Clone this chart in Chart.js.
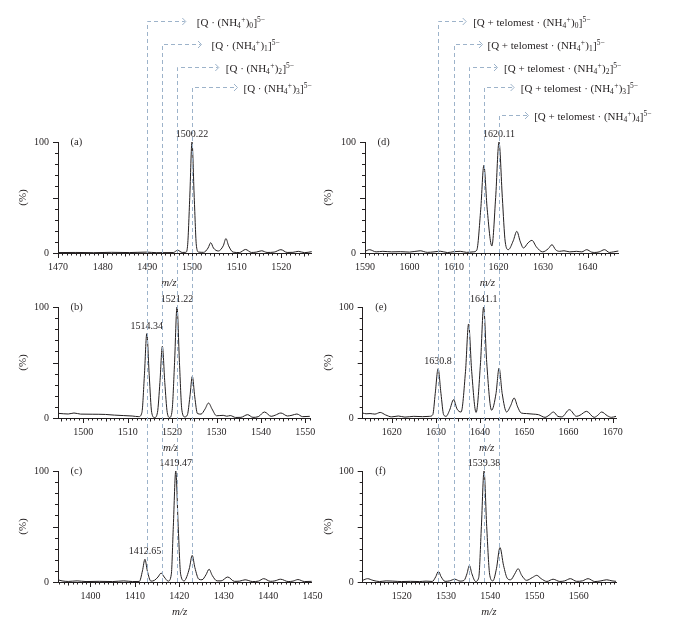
<!DOCTYPE html>
<html>
<head>
<meta charset="utf-8">
<script src="https://cdn.jsdelivr.net/npm/chart.js@4.4.1/dist/chart.umd.min.js"></script>
<style>
  html, body { margin: 0; padding: 0; background: #fff; }
  #fig { position: relative; width: 681px; height: 622px; overflow: hidden; }
  #fig canvas { position: absolute; }
  #ov { left: 0; top: 0; pointer-events: none; }
</style>
</head>
<body>
<div id="fig">
  <canvas id="pa"></canvas>
  <canvas id="pb"></canvas>
  <canvas id="pc"></canvas>
  <canvas id="pd"></canvas>
  <canvas id="pe"></canvas>
  <canvas id="pf"></canvas>
  <canvas id="ov" width="681" height="622"></canvas>
</div>
<script>
/* ── 資料：m/z 與相對強度 (%) ── */
const mzA  = [1470, 1474, 1478, 1482, 1486, 1489.8, 1492, 1495.8, 1496.8, 1497.8, 1498.6, 1499.0, 1499.5, 1500.0, 1500.5, 1501.0, 1501.5, 1502.6, 1503.6, 1504.2, 1504.8, 1505.9, 1507.0, 1507.6, 1508.2, 1509.2, 1510.6, 1512.0, 1513.3, 1514.4, 1515.6, 1516.8, 1518.4, 1519.9, 1521.3, 1522.6, 1523.8, 1525.2, 1526.8];
const intA = [0.4, 0.5, 0.3, 0.6, 0.4, 0.8, 0.3, 0.4, 2.5, 0.5, 0.6, 6, 50, 100, 50, 6, 0.8, 0.6, 4.5, 9.3, 4.5, 1.8, 6.5, 13, 6.5, 0.8, 0.4, 3.2, 0.5, 0.8, 2, 0.5, 0.8, 3, 0.5, 0.6, 1.5, 0.3, 1.2];

const mzB  = [1494.3, 1495.6, 1496.6, 1497.9, 1499.4, 1502, 1505, 1507, 1509, 1511, 1512.5, 1513.2, 1513.75, 1514.3, 1514.85, 1515.4, 1516.05, 1516.7, 1517.25, 1517.8, 1518.35, 1518.9, 1519.45, 1520.0, 1520.55, 1521.1, 1521.65, 1522.2, 1522.85, 1523.45, 1524.0, 1524.55, 1525.1, 1525.7, 1526.5, 1527.4, 1528.2, 1529.0, 1530.0, 1531.5, 1532.3, 1533.1, 1534.3, 1535.5, 1537.0, 1538.2, 1539.4, 1540.8, 1542.3, 1543.2, 1544.5, 1546.0, 1547.0, 1548.1, 1549.4, 1551];
const intB = [4.2, 3.8, 3.6, 4.5, 3.5, 3.4, 3.2, 2.6, 2.2, 1.8, 1.2, 5, 38, 76, 38, 5, 0.4, 5, 32, 64.6, 32, 5, 0.5, 7, 50, 100, 50, 7, 1, 3, 19, 37.5, 19, 4, 3.5, 8, 13.5, 8, 2, 2.4, 1.6, 2.2, 0.5, 0.6, 3, 0.6, 1.2, 5.4, 1.5, 2.5, 4.5, 1.8, 2.5, 3.6, 1.2, 1.5];

const mzC  = [1392.7, 1393.6, 1395, 1397, 1399, 1402, 1405, 1407.5, 1409.5, 1411.0, 1411.7, 1412.26, 1412.8, 1413.6, 1414.4, 1415.2, 1415.9, 1416.6, 1417.5, 1418.2, 1418.65, 1419.2, 1419.75, 1420.3, 1421.1, 1421.7, 1422.3, 1422.9, 1423.5, 1424.4, 1425.1, 1426.0, 1426.7, 1427.4, 1428.5, 1429.4, 1430.9, 1432.4, 1433.6, 1434.8, 1436.5, 1437.8, 1439, 1440.5, 1441.5, 1442.8, 1444.5, 1445.6, 1446.7, 1448.2, 1449.8];
const intC = [2, 1, 0.5, 1, 0.4, 0.6, 0.4, 1, 0.4, 0.5, 10, 20.5, 10, 0.8, 1.5, 4.5, 8, 4.5, 0.8, 7, 50, 100, 50, 7, 1, 5, 13, 24, 13, 2.5, 2, 6.5, 11.5, 6, 1, 1, 4.5, 0.6, 0.8, 2, 0.4, 0.8, 3, 0.6, 1, 2.5, 0.4, 0.8, 2.2, 0.4, 0.6];

const mzD  = [1590, 1591, 1592.5, 1594, 1596, 1598, 1600, 1602.4, 1604, 1605.5, 1606.9, 1608.5, 1610, 1611.4, 1612.8, 1614.3, 1615.1, 1616.0, 1616.7, 1617.45, 1618.5, 1619.35, 1620.1, 1620.85, 1621.5, 1622.2, 1623.3, 1624.1, 1624.9, 1625.6, 1626.6, 1627.5, 1628.5, 1629.9, 1631.2, 1632, 1632.8, 1633.7, 1634.7, 1636, 1637.5, 1638.7, 1639.8, 1640.9, 1641.6, 1642.6, 1643.8, 1644.9, 1645.8, 1646.9];
const intD = [1.5, 3, 1, 1.5, 1, 1.2, 0.8, 2, 0.6, 1, 1.6, 0.4, 1.2, 1.5, 0.6, 1, 2.5, 39.5, 79, 39.5, 6.3, 50, 100, 50, 10, 3, 11, 19.5, 10, 4.5, 9, 11.4, 5.5, 1, 4, 7.5, 3, 1.5, 2, 1, 1.5, 1, 3, 0.8, 0.5, 1, 3, 0.5, 1, 1.8];

const mzE  = [1613.44, 1614.2, 1615.1, 1616.2, 1617.4, 1618.6, 1620, 1621.5, 1623, 1625, 1627, 1628.6, 1629.3, 1629.85, 1630.5, 1631.15, 1631.75, 1632.3, 1633.1, 1634.0, 1634.8, 1635.7, 1636.7, 1637.4, 1638.1, 1639.1, 1640.1, 1640.8, 1641.5, 1642.6, 1643.6, 1644.3, 1645.0, 1646.0, 1646.9, 1647.7, 1648.5, 1649.3, 1650.5, 1652, 1653.2, 1654.7, 1655.6, 1656.6, 1657.6, 1658.5, 1660.2, 1661.8, 1662.6, 1664.1, 1665.8, 1666.5, 1667.5, 1668.8, 1669.7, 1670.75];
const intE = [4.5, 3.8, 4, 3.5, 5, 2.8, 1, 1.8, 0.8, 1.5, 1.2, 1.5, 3, 22, 44.4, 22, 3, 1.5, 7, 16.5, 8, 5.4, 42, 84.7, 42, 5, 50, 100, 50, 7, 22, 45, 22, 5.4, 11, 18, 10, 4.5, 4, 3.5, 3, 0.6, 2.5, 5.4, 1.5, 1, 7.5, 1.5, 2.5, 6, 0.6, 2, 5.4, 2, 0.6, 1.5];

const mzF  = [1511.2, 1512.3, 1513.5, 1515, 1516.5, 1518, 1520, 1522, 1524, 1525.5, 1526.9, 1527.7, 1528.3, 1528.9, 1529.8, 1530.8, 1532, 1533.2, 1534.1, 1534.75, 1535.3, 1535.85, 1536.7, 1537.4, 1538.0, 1538.6, 1539.2, 1539.9, 1540.6, 1541.4, 1542.2, 1543.0, 1543.9, 1544.6, 1545.5, 1546.3, 1547.1, 1548.2, 1549.5, 1550.5, 1551.5, 1552.8, 1554.2, 1555.7, 1556.8, 1558.1, 1559.5, 1560.8, 1562.1, 1563.6, 1565, 1566.3, 1567.5, 1568.4];
const intF = [1.5, 3, 1.5, 0.4, 1, 0.8, 0.4, 0.6, 0.4, 0.8, 0.5, 4.8, 9.6, 4.8, 0.6, 1, 2.5, 0.8, 1.5, 7.5, 15, 7.5, 0.5, 4, 50, 100, 50, 6, 1, 12, 31, 15, 3, 2, 7, 12, 6, 1.5, 4, 6, 3, 0.5, 2.5, 0.5, 1, 3, 0.6, 1, 3, 0.4, 1, 2, 1, 0.6];

/* ── 刻度 ── */
const ticksA = [1470, 1480, 1490, 1500, 1510, 1520];
const ticksB = [1500, 1510, 1520, 1530, 1540, 1550];
const ticksC = [1400, 1410, 1420, 1430, 1440, 1450];
const ticksD = [1590, 1600, 1610, 1620, 1630, 1640];
const ticksE = [1620, 1630, 1640, 1650, 1660, 1670];
const ticksF = [1520, 1530, 1540, 1550, 1560];
const yTicks = [0, 100];

/* ── 峰值標籤 ── */
const peakMzA = [1500.0];            const peakTextA = ['1500.22'];
const peakMzB = [1514.3, 1521.1];    const peakTextB = ['1514.34', '1521.22'];
const peakMzC = [1412.26, 1419.2];   const peakTextC = ['1412.65', '1419.47'];
const peakMzD = [1620.1];            const peakTextD = ['1620.11'];
const peakMzE = [1630.5, 1640.8];    const peakTextE = ['1630.8', '1641.1'];
const peakMzF = [1538.6];            const peakTextF = ['1539.38'];

/* ── 離子系列（虛線對齊 (b) 與 (e) 的峰）── */
const ionPrefixQ = '[Q \u00b7 (NH';
const ionCountQ  = [0, 1, 2, 3];
const ionMzQ     = [1514.3, 1517.8, 1521.1, 1524.55];
const ionPrefixT = '[Q + telomest \u00b7 (NH';
const ionCountT  = [0, 1, 2, 3, 4];
const ionMzT     = [1630.5, 1634.0, 1637.4, 1640.8, 1644.3];

const SERIF = '"Liberation Serif", "DejaVu Serif", serif';
const INK   = '#231f20';
const GUIDE = '#9db3ca';

const panels = [
  { id: 'a', letter: '(a)', mz: mzA, val: intA, ticks: ticksA, min: 1470,    max: 1526.8,  peaks: peakMzA, texts: peakTextA,
    box: { left: 0,   top: 110, w: 340, h: 183, padTop: 32, axisW: 58,   padRight: 28.3, titlePad: 16.7 }, mzX: 111 },
  { id: 'b', letter: '(b)', mz: mzB, val: intB, ticks: ticksB, min: 1494.3,  max: 1551.05, peaks: peakMzB, texts: peakTextB,
    box: { left: 0,   top: 280, w: 340, h: 178, padTop: 27, axisW: 58,   padRight: 30,   titlePad: 16.7 }, mzX: 112.7 },
  { id: 'c', letter: '(c)', mz: mzC, val: intC, ticks: ticksC, min: 1392.69, max: 1449.8,  peaks: peakMzC, texts: peakTextC,
    box: { left: 0,   top: 445, w: 340, h: 177, padTop: 26, axisW: 58,   padRight: 28.3, titlePad: 16.7 }, mzX: 121.7 },
  { id: 'd', letter: '(d)', mz: mzD, val: intD, ticks: ticksD, min: 1590,    max: 1646.9,  peaks: peakMzD, texts: peakTextD,
    box: { left: 300, top: 110, w: 381, h: 183, padTop: 32, axisW: 65,   padRight: 62.7, titlePad: 21.4 }, mzX: 122.3 },
  { id: 'e', letter: '(e)', mz: mzE, val: intE, ticks: ticksE, min: 1613.44, max: 1670.75, peaks: peakMzE, texts: peakTextE,
    box: { left: 300, top: 280, w: 381, h: 178, padTop: 27, axisW: 62.7, padRight: 65,   titlePad: 21.4 }, mzX: 124 },
  { id: 'f', letter: '(f)', mz: mzF, val: intF, ticks: ticksF, min: 1511.2,  max: 1568.4,  peaks: peakMzF, texts: peakTextF,
    box: { left: 300, top: 445, w: 381, h: 177, padTop: 26, axisW: 62.7, padRight: 65,   titlePad: 21.4 }, mzX: 126.3 },
];

/* ── 外掛：細刻度 ── */
const axisTicks = {
  id: 'axisTicks',
  afterDraw(chart) {
    const { ctx, chartArea: a, scales: { x, y } } = chart;
    ctx.save();
    ctx.strokeStyle = INK; ctx.lineWidth = 1;
    ctx.beginPath();
    for (let v = Math.ceil(x.min); v <= x.max; v++) {
      const px = Math.round(x.getPixelForValue(v)) + 0.5;
      const len = v % 10 === 0 ? 5 : (v % 5 === 0 ? 3.5 : 2.5);
      ctx.moveTo(px, a.bottom); ctx.lineTo(px, a.bottom + len);
    }
    for (let v = 0; v <= 100; v += 10) {
      const py = Math.round(y.getPixelForValue(v)) + 0.5;
      const len = v % 50 === 0 ? 5 : 3;
      ctx.moveTo(a.left, py); ctx.lineTo(a.left - len, py);
    }
    ctx.stroke();
    ctx.restore();
  }
};

/* ── 外掛：峰值標籤、面板字母、m/z ── */
const panelText = {
  id: 'panelText',
  afterDatasetsDraw(chart, args, opts) {
    const { ctx, chartArea: a, scales: { x, y } } = chart;
    const pts = chart.data.datasets[0].data;
    ctx.save();
    ctx.fillStyle = INK;
    ctx.font = '10px ' + SERIF;
    ctx.textAlign = 'center'; ctx.textBaseline = 'alphabetic';
    opts.peaks.forEach((m, i) => {
      const pt = pts.find(d => d.x === m);
      ctx.fillText(opts.texts[i], x.getPixelForValue(m), y.getPixelForValue(pt.y) - 5);
    });
    ctx.textAlign = 'left'; ctx.textBaseline = 'middle';
    ctx.font = '10.5px ' + SERIF;
    ctx.fillText(opts.letter, a.left + 12.5, a.top);
    ctx.textAlign = 'center';
    ctx.font = 'italic 11px ' + SERIF;
    ctx.fillText('m/z', a.left + opts.mzX, a.bottom + 30.5);
    ctx.restore();
  }
};

function makePanel(p) {
  const cv = document.getElementById('p' + p.id);
  cv.width = p.box.w; cv.height = p.box.h;
  cv.style.left = p.box.left + 'px'; cv.style.top = p.box.top + 'px';
  return new Chart(cv, {
    type: 'line',
    data: {
      datasets: [{
        data: p.mz.map((x, i) => ({ x, y: p.val[i] })),
        borderColor: INK, borderWidth: 1,
        pointRadius: 0, fill: false, clip: 4,
        cubicInterpolationMode: 'monotone',
      }],
    },
    options: {
      responsive: false, animation: false, events: [],
      layout: { padding: { top: p.box.padTop, right: p.box.padRight, left: 0, bottom: 0 } },
      plugins: {
        legend: { display: false }, tooltip: { enabled: false },
        panelText: { letter: p.letter, peaks: p.peaks, texts: p.texts, mzX: p.mzX },
      },
      scales: {
        x: {
          type: 'linear', min: p.min, max: p.max,
          afterFit: s => { s.height = 40; },
          afterBuildTicks: s => { s.ticks = p.ticks.map(v => ({ value: v })); },
          grid: { display: false, drawTicks: false },
          border: { color: INK, width: 1 },
          ticks: { padding: 8, color: INK, font: { family: SERIF, size: 10 }, maxRotation: 0, autoSkip: false, callback: v => String(v) },
        },
        y: {
          type: 'linear', min: 0, max: 100,
          afterFit: s => { s.width = p.box.axisW; },
          afterBuildTicks: s => { s.ticks = yTicks.map(v => ({ value: v })); },
          grid: { display: false, drawTicks: false },
          border: { color: INK, width: 1 },
          ticks: { padding: 9, color: INK, font: { family: SERIF, size: 10 }, callback: v => String(v) },
          title: { display: true, text: '(%)', color: INK, font: { family: SERIF, size: 11 }, padding: { top: p.box.titlePad, bottom: 0 } },
        },
      },
    },
    plugins: [axisTicks, panelText],
  });
}

const charts = {};
panels.forEach(p => { charts[p.id] = makePanel(p); });

/* ── 離子標籤（上下標）── */
function drawIonLabel(ctx, x, y, prefix, n) {
  const base = y + 4;
  const parts = [[prefix, 11, 0], ['4', 7.5, 2.5], ['+', 7.5, -4], [')', 11, 0], [String(n), 7.5, 2.5], [']', 11, 0], ['5\u2212', 7.5, -4]];
  ctx.fillStyle = INK; ctx.textAlign = 'left'; ctx.textBaseline = 'alphabetic';
  let cx = x;
  parts.forEach(([t, size, dy]) => {
    ctx.font = size + 'px ' + SERIF;
    ctx.fillText(t, cx, base + dy);
    cx += ctx.measureText(t).width + (size < 11 ? 0.3 : 0);
  });
}

/* ── 疊加層：虛線導引與箭頭 ── */
const guideSets = [
  { chart: charts.b, ox: 0,   mz: ionMzQ, n: ionCountQ, prefix: ionPrefixQ, bottom: charts.c, bottomTop: 445,
    rows: [20.7, 44.3, 66.7, 87.3],      arm: [38.3, 39, 41.3, 45],       gap: [11, 10, 7, 6] },
  { chart: charts.e, ox: 300, mz: ionMzT, n: ionCountT, prefix: ionPrefixT, bottom: charts.f, bottomTop: 445,
    rows: [21, 44.3, 66.7, 87.3, 115],   arm: [27.7, 28, 28, 29.6, 29],   gap: [7, 5, 6.6, 6.7, 5.7] },
];

const ov = document.getElementById('ov').getContext('2d');
ov.lineWidth = 1;
guideSets.forEach(g => {
  const bottomY = g.bottom.chartArea.bottom + g.bottomTop;
  g.mz.forEach((m, i) => {
    const gx = Math.round(g.chart.scales.x.getPixelForValue(m) + g.ox) + 0.5;
    const gy = Math.round(g.rows[i]) + 0.5;
    const tip = gx + g.arm[i];
    ov.strokeStyle = GUIDE;
    ov.setLineDash([4, 3]);
    ov.beginPath(); ov.moveTo(gx, bottomY); ov.lineTo(gx, gy); ov.lineTo(tip - 1, gy); ov.stroke();
    ov.setLineDash([]);
    ov.beginPath(); ov.moveTo(tip - 3.5, gy - 3.5); ov.lineTo(tip, gy); ov.lineTo(tip - 3.5, gy + 3.5); ov.stroke();
    drawIonLabel(ov, tip + g.gap[i], gy, g.prefix, g.n[i]);
  });
});
</script>
</body>
</html>
